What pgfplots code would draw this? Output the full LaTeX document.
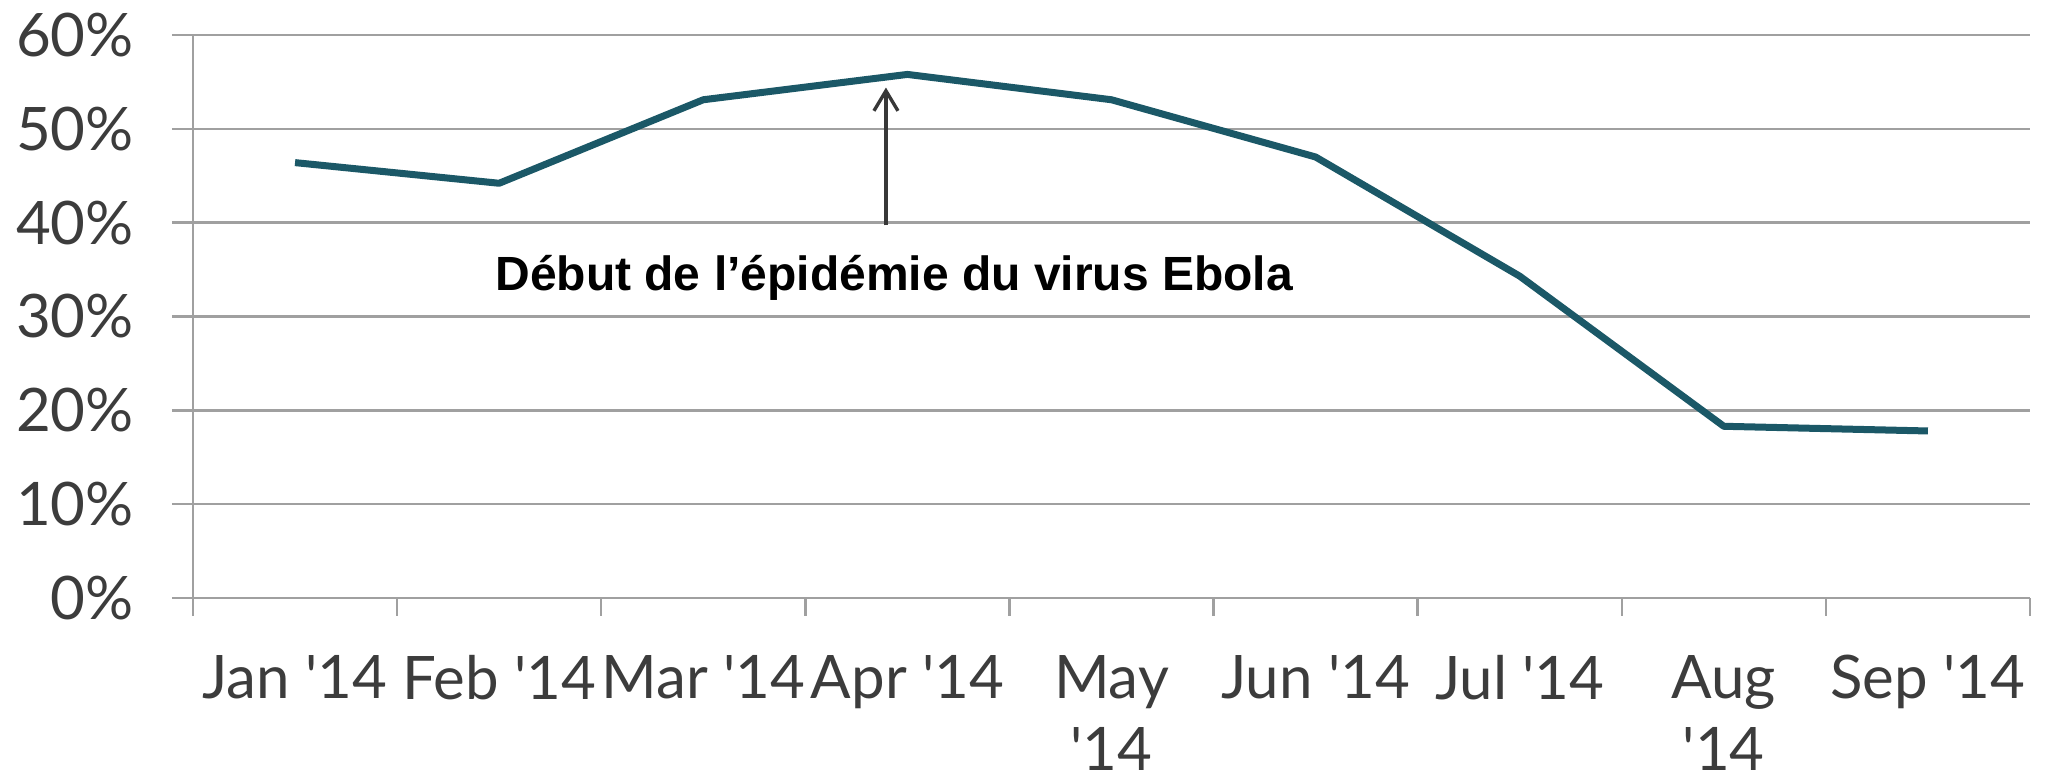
\documentclass[border=0pt]{standalone}
\usepackage{fontspec}
\setmainfont{Lato}
\newfontfamily\annfont{Liberation Sans}
\usepackage{pgfplots}
\pgfplotsset{compat=1.18}
\usetikzlibrary{arrows.meta}
\definecolor{lineteal}{HTML}{1B5867}
\definecolor{gridgray}{HTML}{A0A0A0}
\definecolor{labelgray}{HTML}{3C3C3C}
\pgfplotstableread{
x y
0 46.4
1 44.2
2 53.1
3 55.8
4 53.1
5 47.0
6 34.3
7 18.3
8 17.8
}\datatable
\begin{document}
\begin{tikzpicture}
\begin{axis}[
  scale only axis,
  width=459.25pt, height=140.75pt,
  at={(0,0)}, anchor=south west,
  xmin=-0.5, xmax=8.5, ymin=0, ymax=60,
  axis x line=bottom, axis y line=left,
  axis line style={gridgray, line width=0.6pt, -},
  xtick={0,...,8},
  xticklabels={Jan \textquotesingle14, Feb \textquotesingle14, Mar \textquotesingle14, Apr \textquotesingle14, {May\\\textquotesingle14}, Jun \textquotesingle14, Jul \textquotesingle14, {Aug\\\textquotesingle14}, Sep \textquotesingle14},
  minor xtick={-0.5,0.5,...,8.5},
  ytick={0,10,...,60},
  yticklabels={0\%,10\%,20\%,30\%,40\%,50\%,60\%},
  tick align=outside,
  major tick length=5.25pt,
  minor tick length=4.5pt,
  major x tick style={draw=none},
  minor x tick style={gridgray, line width=0.6pt},
  major y tick style={gridgray, line width=0.6pt},
  ymajorgrids,
  major grid style={gridgray, line width=0.6pt},
  xticklabel style={font=\fontsize{15}{18}\selectfont, text=labelgray, align=center, anchor=north, yshift=-5.5pt},
  yticklabel style={font=\fontsize{15}{17}\selectfont, text=labelgray, xshift=-6pt},
  clip=false,
]
\addplot[lineteal, line width=1.75pt, line join=round] table[x=x, y=y] {\datatable};
\draw[-{Straight Barb[length=5pt,width=6pt]}, draw=black!78, line width=0.85pt] (axis cs:2.895,39.7) -- (axis cs:2.895,54.4);
\node[anchor=base, inner sep=0pt, font=\annfont\bfseries\fontsize{12}{14}\selectfont] at (axis cs:2.935,32.8) {Début de l’épidémie du virus Ebola};
\end{axis}
\pgfresetboundingbox
\path[use as bounding box] (-48.25pt,-45.25pt) rectangle (463.25pt,149.5pt);
\end{tikzpicture}
\end{document}
